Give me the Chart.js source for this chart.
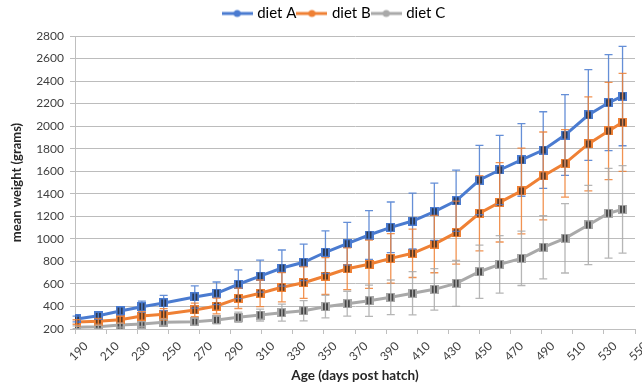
<!DOCTYPE html>
<html>
<head>
<meta charset="utf-8">
<script src="https://cdn.jsdelivr.net/npm/chart.js@4.4.0/dist/chart.umd.min.js"></script>
<style>
  html, body { margin: 0; padding: 0; background: #fff; }
  #wrap { width: 642px; height: 385px; position: relative; }
</style>
</head>
<body>
<div id="wrap"><canvas id="weightChart"></canvas></div>
<script>
// ages (days post hatch) of each weighing
const ages = [191, 205, 219, 233, 247, 267, 281, 295, 309, 323, 337, 351, 365,
              379, 393, 407, 421, 435, 450, 463, 477, 491, 505, 520, 533, 542];

// mean weights (grams)
const dietA = [289, 318, 360, 398, 431, 484, 517, 597, 670, 741, 792, 881, 957,
               1034, 1102, 1158, 1241, 1338, 1522, 1611, 1700, 1788, 1921, 2099, 2208, 2267];
const dietB = [262, 268, 283, 315, 330, 369, 404, 472, 517, 570, 611, 670, 735,
               774, 827, 872, 954, 1055, 1227, 1324, 1425, 1558, 1670, 1842, 1957, 2034];
const dietC = [215, 220, 235, 244, 259, 265, 280, 304, 324, 345, 362, 398, 425,
               451, 481, 517, 552, 605, 708, 774, 827, 925, 1005, 1123, 1227, 1262];

// error bars (+/- grams)
const dietAErr = [25, 30, 38, 50, 68, 98, 100, 127, 142, 160, 162, 189, 190,
                  216, 225, 248, 254, 272, 308, 308, 322, 340, 358, 402, 426, 441];
const dietBErr = [20, 25, 30, 40, 50, 60, 70, 90, 118, 130, 140, 163, 185,
                  214, 220, 215, 255, 280, 334, 352, 380, 390, 300, 417, 432, 435];
const dietCErr = [12, 15, 18, 22, 28, 30, 35, 45, 53, 75, 90, 100, 110,
                  139, 154, 192, 184, 204, 237, 255, 241, 281, 308, 352, 398, 388];

// axis ticks
const xTicks = [190, 210, 230, 250, 270, 290, 310, 330, 350, 370, 390, 410, 430, 450, 470, 490, 510, 530, 550];
const yTicks = [200, 400, 600, 800, 1000, 1200, 1400, 1600, 1800, 2000, 2200, 2400, 2600, 2800];

const colA = '#4a7bd0';
const colB = '#ef8034';
const colC = '#a9a9a9';

// square marker with a dark pattern, like the Excel one
function marker(color) {
    const c = document.createElement('canvas');
    c.width = 9; c.height = 9;
    const g = c.getContext('2d');
    g.fillStyle = color;
    g.fillRect(0, 0, 9, 9);
    g.fillStyle = 'rgba(30,30,30,0.7)';
    g.fillRect(2, 1, 2, 7);
    g.fillRect(5, 1, 2, 7);
    return c;
}

// legend symbol: line with a dot
function legendIcon(color) {
    const c = document.createElement('canvas');
    c.width = 31; c.height = 10;
    const g = c.getContext('2d');
    g.strokeStyle = color;
    g.lineWidth = 3;
    g.beginPath(); g.moveTo(0, 5); g.lineTo(31, 5); g.stroke();
    g.fillStyle = color;
    g.beginPath(); g.arc(15.5, 5, 3.5, 0, Math.PI * 2); g.fill();
    return c;
}

function pts(ys) {
    return ages.map((a, i) => ({ x: a, y: ys[i] }));
}

// error bars drawn through the chart scales
const errorBars = {
    id: 'errorBars',
    afterDatasetsDraw(chart) {
        const ctx = chart.ctx;
        const x = chart.scales.x, y = chart.scales.y;
        chart.data.datasets.forEach((ds, i) => {
            ctx.save();
            ctx.strokeStyle = ds.borderColor;
            ctx.globalAlpha = 0.85;
            ctx.lineWidth = 1.3;
            ds.data.forEach((p, j) => {
                const px = x.getPixelForValue(p.x);
                const top = y.getPixelForValue(p.y + ds.err[j]);
                const bot = y.getPixelForValue(p.y - ds.err[j]);
                ctx.beginPath();
                ctx.moveTo(px, top); ctx.lineTo(px, bot);
                ctx.moveTo(px - 4, top); ctx.lineTo(px + 4, top);
                ctx.moveTo(px - 4, bot); ctx.lineTo(px + 4, bot);
                ctx.stroke();
            });
            ctx.restore();
        });
    }
};

// fix the legend height and nudge it right, as in the picture
const legendFix = {
    id: 'legendFix',
    beforeLayout(chart) {
        const lg = chart.legend;
        if (lg && !lg._patched) {
            const fit = lg.fit;
            lg.fit = function() { fit.call(this); this.height = 33; };
            const draw = lg.draw;
            lg.draw = function() {
                this.ctx.save();
                this.ctx.translate(15, 0);
                draw.call(this);
                this.ctx.restore();
            };
            lg._patched = true;
        }
    }
};

Chart.defaults.font.family = 'Lato, "Liberation Sans", sans-serif';
Chart.defaults.color = '#404040';

new Chart(document.getElementById('weightChart'), {
    type: 'line',
    data: {
        datasets: [
            { label: 'diet A', data: pts(dietA), err: dietAErr, borderColor: colA, backgroundColor: colA,
              borderWidth: 3, pointStyle: marker(colA), icon: legendIcon(colA) },
            { label: 'diet B', data: pts(dietB), err: dietBErr, borderColor: colB, backgroundColor: colB,
              borderWidth: 3, pointStyle: marker(colB), icon: legendIcon(colB) },
            { label: 'diet C', data: pts(dietC), err: dietCErr, borderColor: colC, backgroundColor: colC,
              borderWidth: 3, pointStyle: marker(colC), icon: legendIcon(colC) }
        ]
    },
    options: {
        responsive: true,
        maintainAspectRatio: false,
        animation: false,
        layout: { padding: { left: 0, right: 2, top: 3, bottom: 0 } },
        plugins: {
            tooltip: { enabled: false },
            legend: {
                position: 'top',
                labels: {
                    usePointStyle: true,
                    pointStyleWidth: 25,
                    padding: 3,
                    color: '#404040',
                    font: { size: 15 },
                    generateLabels(chart) {
                        return chart.data.datasets.map((ds, i) => ({
                            text: ds.label,
                            pointStyle: ds.icon,
                            fillStyle: ds.borderColor,
                            strokeStyle: ds.borderColor,
                            lineWidth: 0,
                            hidden: false,
                            datasetIndex: i
                        }));
                    }
                }
            }
        },
        scales: {
            x: {
                type: 'linear',
                min: 190,
                max: 550,
                afterBuildTicks(s) { s.ticks = xTicks.map(v => ({ value: v })); },
                afterFit(s) { s.height = 56; s.paddingLeft = 0; s.paddingRight = 0; },
                ticks: {
                    autoSkip: false,
                    minRotation: 45,
                    maxRotation: 45,
                    labelOffset: 11,
                    padding: 5,
                    font: { size: 12 },
                    color: '#404040',
                    callback: v => String(v)
                },
                grid: { drawOnChartArea: false, tickLength: 5, color: '#bfbfbf' },
                border: { color: '#bfbfbf' },
                title: { display: true, text: 'Age (days post hatch)', font: { size: 13.5, weight: 'bold' },
                         color: '#262626', padding: { top: 0, bottom: 1 } }
            },
            y: {
                min: 200,
                max: 2800,
                afterBuildTicks(s) { s.ticks = yTicks.map(v => ({ value: v })); },
                afterFit(s) { s.width = 75; s.paddingTop = 0; s.paddingBottom = 0; },
                ticks: { font: { size: 12 }, color: '#404040', padding: 6, callback: v => String(v) },
                grid: { color: '#bcbcbc', lineWidth: 1, tickLength: 5 },
                border: { color: '#bfbfbf' },
                title: { display: true, text: 'mean weight (grams)', font: { size: 13, weight: 'bold' },
                         color: '#262626', padding: { top: 9, bottom: 0 } }
            }
        }
    },
    plugins: [errorBars, legendFix]
});
</script>
</body>
</html>
